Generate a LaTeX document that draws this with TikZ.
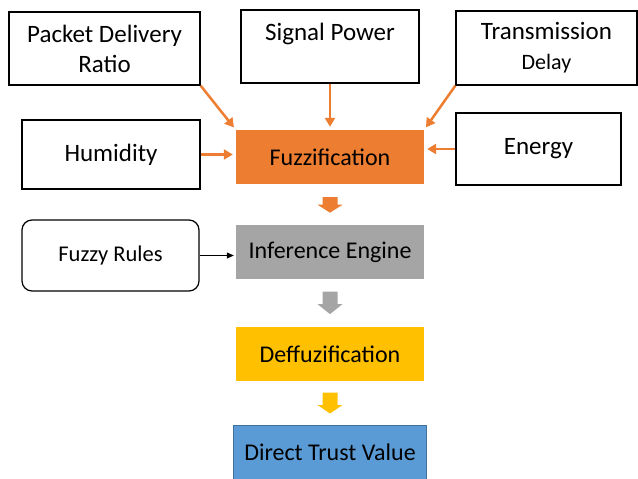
\documentclass[tikz,border=0pt]{standalone}
\usepackage{fontspec}
\setmainfont{Carlito}
\usetikzlibrary{positioning, arrows.meta, calc}
\definecolor{fzorange}{HTML}{ED7D31}
\definecolor{fzgray}{HTML}{A5A5A5}
\definecolor{fzyellow}{HTML}{FFC000}
\definecolor{fzblue}{HTML}{5B9BD5}
\definecolor{fzblueline}{HTML}{41719C}
\tikzset{
	block/.style = {rectangle, minimum height=54pt, minimum width=188pt, inner sep=0pt, font=\fontsize{24}{28}\selectfont},
	inbox/.style = {draw, line width=1.2pt, inner sep=0pt, align=center, font=\fontsize{25}{30}\selectfont},
	arrow/.style = {line width=2.5pt, fzorange, -{Triangle[length=9pt, width=10pt]}, shorten >=3pt}
}

\begin{document}
\begin{tikzpicture}[
			x=1pt, y=-1pt,
			rulebox/.style={inbox, rounded corners=10pt, font=\fontsize{22.5}{27}\selectfont},
			node distance=44pt % Abstand zwischen den Bloecken
			]
			\useasboundingbox (0,0) rectangle (638,479);
			
			% Eingangsgroessen
			\node[inbox, minimum width=191pt, minimum height=73pt] (pdr) at (104.5,48.5) {Packet Delivery\\Ratio};
			\node[inbox, minimum width=178pt, minimum height=73pt] (power) at (330,46.5) {Signal Power\\\phantom{Ratio}};
			\node[inbox, minimum width=181pt, minimum height=74pt] (delay) at (546.5,48) {Transmission\\{\fontsize{22}{26}\selectfont Delay}};
			\node[inbox, minimum width=178pt, minimum height=69pt] (humid) at (111,154.5) {Humidity};
			\node[inbox, minimum width=165pt, minimum height=72pt] (energy) at (538.5,149) {Energy};
			\node[rulebox, minimum width=177pt, minimum height=71pt] (rules) at (110.5,255.5) {Fuzzy Rules};
			
			% Bloecke untereinander
			\node[block, fill=fzorange] (fuzz) at (330,157) {Fuzzification};
			\node[block, fill=fzgray, below=41pt of fuzz] (infer) {Inference Engine};
			\node[block, fill=fzyellow, below=47pt of infer] (defuzz) {Deffuzification};
			\node[block, fill=fzblue, draw=fzblueline, line width=0.8pt, minimum width=193pt, below=of defuzz] (trust) {Direct Trust Value};
			
			% Blockpfeile
			\coordinate (m1) at ($(fuzz.south)!0.5!(infer.north)$);
			\coordinate (m2) at ($(infer.south)!0.5!(defuzz.north)$);
			\coordinate (m3) at ($(defuzz.south)!0.5!(trust.north)$);
			\fill[fzorange, shift={(m1)}] (-7.5,-7.5) -- (7.5,-7.5) -- (7.5,0) -- (12.5,0) -- (0,8) -- (-12.5,0) -- (-7.5,0) -- cycle;
			\fill[fzgray, shift={(m2)}] (-7.5,-11.5) -- (7.5,-11.5) -- (7.5,1) -- (12.5,1) -- (0,11) -- (-12.5,1) -- (-7.5,1) -- cycle;
			\fill[fzyellow, shift={(m3)}] (-7.5,-10.5) -- (7.5,-10.5) -- (7.5,2) -- (12.5,2) -- (0,10.5) -- (-12.5,2) -- (-7.5,2) -- cycle;
			
			% Verbindungen
			\draw[arrow] (pdr.south east) -- (fuzz.north west);
			\draw[arrow] (power) -- (fuzz);
			\draw[arrow] (delay.south west) -- (fuzz.north east);
			\draw[arrow] (humid.east) -- (humid.east -| fuzz.west);
			\draw[arrow] (energy.west) -- (energy.west -| fuzz.east);
			\draw[line width=0.8pt, -{Triangle[length=7pt, width=6pt]}, shorten >=2pt] (rules.east) -- (rules.east -| infer.west);
		\end{tikzpicture}
\end{document}
